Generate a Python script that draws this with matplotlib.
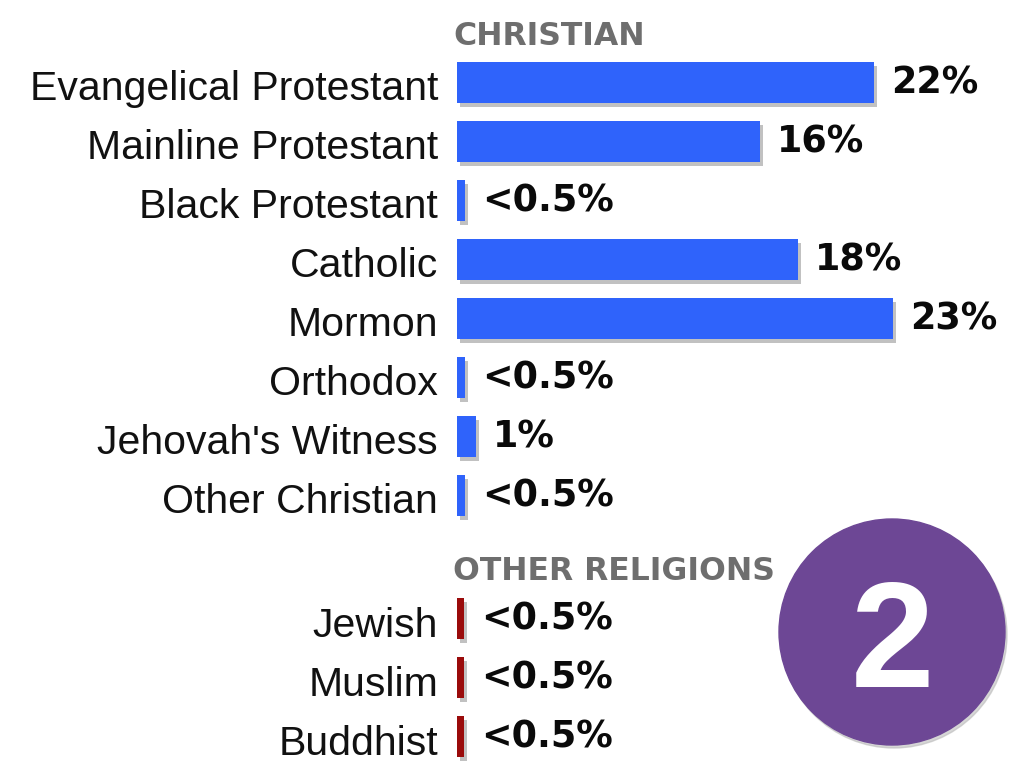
import matplotlib.pyplot as plt
from matplotlib.patches import Circle

christian = ['Evangelical Protestant', 'Mainline Protestant', 'Black Protestant',
             'Catholic', 'Mormon', 'Orthodox', "Jehovah's Witness", 'Other Christian']
christian_vals = [22, 16, 0.42, 18, 23, 0.42, 1, 0.42]
christian_lbls = ['22%', '16%', '<0.5%', '18%', '23%', '<0.5%', '1%', '<0.5%']

other = ['Jewish', 'Muslim', 'Buddhist']
other_vals = [0.38, 0.38, 0.38]
other_lbls = ['<0.5%', '<0.5%', '<0.5%']

blue = '#2f63fb'
red = '#9a0b0b'

W, H = 1011, 770
fig = plt.figure(figsize=(W / 100, H / 100), dpi=100)
ax = fig.add_axes([0, 0, 1, 1])
px = 18.95   # pixels per percent
row = 59.0   # pixels per row
ax.set_xlim(-457 / px, (W - 457) / px)
ax.set_ylim((H - 82.5) / row, -82.5 / row)
ax.axis('off')

y1 = list(range(len(christian)))
y2 = [9.09 + i for i in range(len(other))]
bh = 0.695
dx, dy = 3 / px, 4 / row


def draw(ys, vals, names, lbls, color):
    ax.barh([y + dy for y in ys], vals, height=bh, left=dx, color='#777777',
            alpha=0.45, zorder=1)
    ax.barh(ys, vals, height=bh, color=color, zorder=2)
    for y, v, n, l in zip(ys, vals, names, lbls):
        ax.text(-1.0, y + 0.3, n, ha='right', va='baseline',
                family='Liberation Sans', fontsize=29.5, color='#111111')
        ax.text(v + 0.9, y + 0.18, l, ha='left', va='baseline',
                family='DejaVu Sans', fontweight='bold', fontsize=26.3, color='#0a0a0a')


draw(y1, christian_vals, christian, christian_lbls, blue)
draw(y2, other_vals, other, other_lbls, red)

ax.text(-0.2, -0.636, 'CHRISTIAN', ha='left', va='baseline', family='DejaVu Sans',
        fontweight='bold', fontsize=22.7, color='#6e6e6e')
ax.text(-0.2, 8.43, 'OTHER RELIGIONS', ha='left', va='baseline', family='DejaVu Sans',
        fontweight='bold', fontsize=22.7, color='#6e6e6e')

# purple badge
cx, cy, r = 8.92, (H - 632) / 100, 1.13
fig.patches.append(Circle((cx + 0.02, cy - 0.03), r, transform=fig.dpi_scale_trans,
                          color='#bbbbbb', alpha=0.6, zorder=3))
fig.patches.append(Circle((cx, cy), r, transform=fig.dpi_scale_trans,
                          color='#6d4795', zorder=4))
fig.text(cx / (W / 100), (H - 687) / H, '2', ha='center', va='baseline',
         family='Liberation Sans', fontweight='bold', fontsize=108, color='white',
         zorder=5)

fig.savefig('out.png', dpi=100)
